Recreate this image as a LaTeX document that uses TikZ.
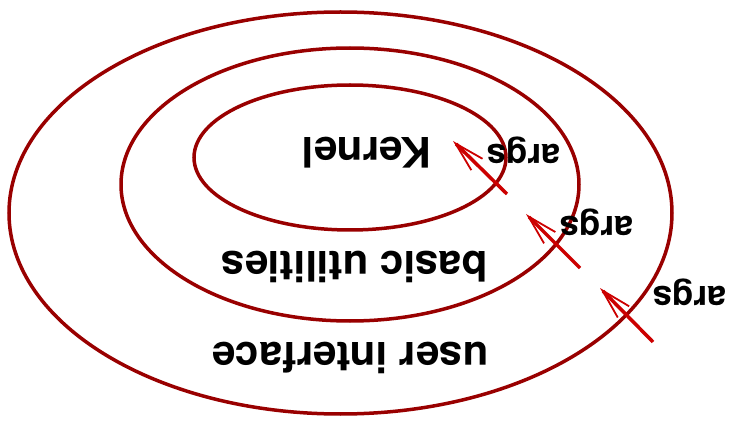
\documentclass[tikz,border=0pt]{standalone}
\usepackage{fontspec}
\newfontfamily\diagfont{TeX Gyre Heros}
\usetikzlibrary{arrows.meta}
\definecolor{darkred}{RGB}{153, 0, 0}
\definecolor{argred}{RGB}{204, 0, 0}

\begin{document}
\begin{tikzpicture}[x=1pt, y=-1pt,
    layer/.style={draw=darkred, line width=3.5pt},
    layertext/.style={rotate=180, anchor=base, font=\diagfont\bfseries\fontsize{42}{50}\selectfont},
    argtext/.style={rotate=180, anchor=base, font=\diagfont\bfseries\fontsize{35}{42}\selectfont},
    argcall/.style={argred, line width=3.5pt, -{Straight Barb[length=30pt, width=16pt, line width=1.8pt]}}]
        \useasboundingbox (0,0) rectangle (740,425);

        % Layers
        \draw[layer] (340.5,213) ellipse [x radius=331.5pt, y radius=201pt];
        \draw[layer] (350,184.5) ellipse [x radius=229pt, y radius=136.5pt];
        \draw[layer] (350,157.5) ellipse [x radius=156pt, y radius=72.5pt];

        % Layer names
        \node[layertext] (kernel) at (367,138) {Kernel};
        \node[layertext] (utils) at (354.5,252) {basic utilities};
        \node[layertext] (ui) at (350,342) {user interface};

        % Arguments passed inwards
        \coordinate (kernel-tail) at (507,194);
        \coordinate (kernel-tip) at (453,141);
        \coordinate (utils-tail) at (580,268);
        \coordinate (utils-tip) at (526,214);
        \coordinate (ui-tail) at (653,342);
        \coordinate (ui-tip) at (600,288);
        \draw[argcall] (kernel-tail) -- (kernel-tip);
        \draw[argcall] (utils-tail) -- (utils-tip);
        \draw[argcall] (ui-tail) -- (ui-tip);

        \node[argtext] (kernel-args) at (523.5,145) {args};
        \node[argtext] (utils-args) at (596.5,217) {args};
        \node[argtext] (ui-args) at (689.5,287) {args};
    \end{tikzpicture}
\end{document}
